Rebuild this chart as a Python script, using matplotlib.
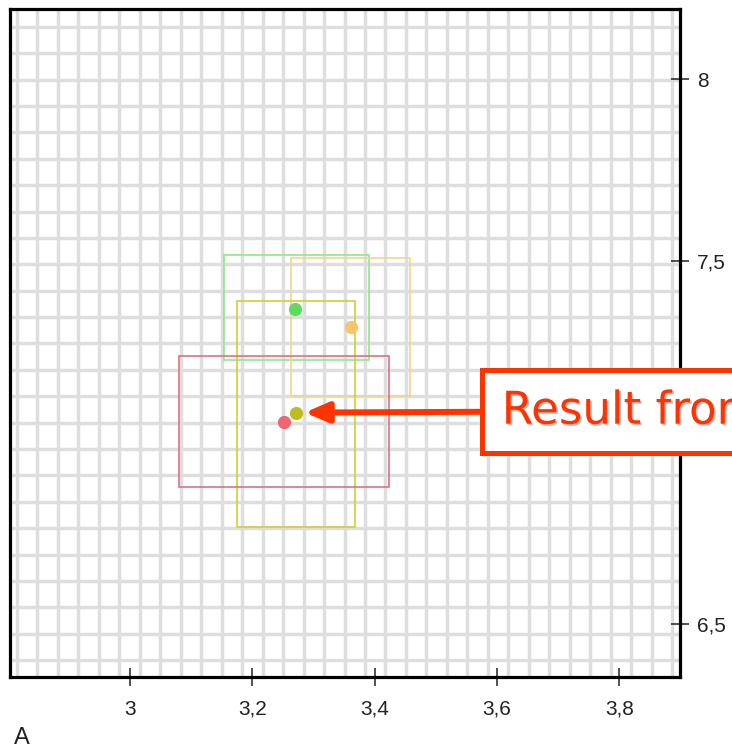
import numpy as np
import matplotlib
matplotlib.use("Agg")
import matplotlib.pyplot as plt
import matplotlib.patheffects as pe
from matplotlib.patches import Rectangle
from matplotlib.ticker import FixedLocator, FuncFormatter

# ranges (boxes) and centre points for each run
box_x0 = [3.153, 3.264, 3.175, 3.081]
box_x1 = [3.391, 3.458, 3.368, 3.423]
box_y0 = [7.228, 7.129, 6.769, 6.879]
box_y1 = [7.517, 7.509, 7.390, 7.239]
pt_x = [3.270, 3.361, 3.271, 3.252]
pt_y = [7.367, 7.318, 7.083, 7.058]
box_colors = ["#8fe88f", "#f6d38e", "#cfcf33", "#de7282"]
pt_colors = ["#5cdc5c", "#f8c56a", "#bdbd22", "#f06474"]

x_ticks = [3.0, 3.2, 3.4, 3.6, 3.8]
y_ticks = [6.5, 7.5, 8.0]
x_lim = (2.804, 3.899)
y_lim = (6.356, 8.193)

callout = "Result from"
red = "#ff3300"

fig = plt.figure(figsize=(7.32, 7.53), dpi=100)
ax = fig.add_axes([10 / 732, (753 - 676.7) / 753, 670 / 732, (676.7 - 9.3) / 753])
ax.set_xlim(*x_lim)
ax.set_ylim(*y_lim)

# background grid, not tied to the tick positions
for gx in 2.8152 + 0.03347 * np.arange(33):
    ax.axvline(gx, color="#dedede", lw=2.5, zorder=0)
for gy in 8.1447 - 0.07262 * np.arange(25):
    ax.axhline(gy, color="#dedede", lw=2.5, zorder=0)

for x0, x1, y0, y1, c in zip(box_x0, box_x1, box_y0, box_y1, box_colors):
    ax.add_patch(Rectangle((x0, y0), x1 - x0, y1 - y0, fill=False, ec=c, lw=1.2, zorder=2))
for x, y, c in zip(pt_x, pt_y, pt_colors):
    ax.plot(x, y, "o", ms=8.5, color=c, mec=c, zorder=3)

for s in ax.spines.values():
    s.set_linewidth(2.3)
    s.set_color("black")

comma = FuncFormatter(lambda v, p: f"{v:g}".replace(".", ","))
ax.xaxis.set_major_locator(FixedLocator(x_ticks))
ax.yaxis.set_major_locator(FixedLocator(y_ticks))
ax.xaxis.set_major_formatter(comma)
ax.yaxis.set_major_formatter(comma)
ax.yaxis.tick_right()
ax.tick_params(direction="inout", length=13, width=1.1, labelsize=15, colors="#222222")
ax.tick_params(axis="x", pad=10)
ax.tick_params(axis="y", pad=6)
for lab in ax.get_xticklabels() + ax.get_yticklabels():
    lab.set_family(["Liberation Sans", "DejaVu Sans"])

fig.text(22 / 732, 1 - 738 / 753, "A", ha="center", va="center", fontsize=17,
         family=["Liberation Sans", "DejaVu Sans"], color="#222222")

# callout pointing at the combined result
ann = ax.annotate(
    callout, xy=(pt_x[2], pt_y[2]), xycoords="data",
    xytext=(206 * 0.72, 1), textcoords="offset points",
    ha="left", va="center", fontsize=32.5, color=red,
    bbox=dict(boxstyle="square,pad=0.44", fc="white", ec=red, lw=3.6),
    arrowprops=dict(arrowstyle="-|>,head_length=1.4,head_width=0.6", mutation_scale=10,
                    color=red, lw=4.3, shrinkA=0, shrinkB=6.5),
    zorder=5, annotation_clip=False,
)
ann.set_path_effects([pe.SimplePatchShadow(offset=(1.2, -1.2), shadow_rgbFace="#999999", alpha=0.6),
                      pe.Normal()])

fig.savefig("out.png", dpi=100)
